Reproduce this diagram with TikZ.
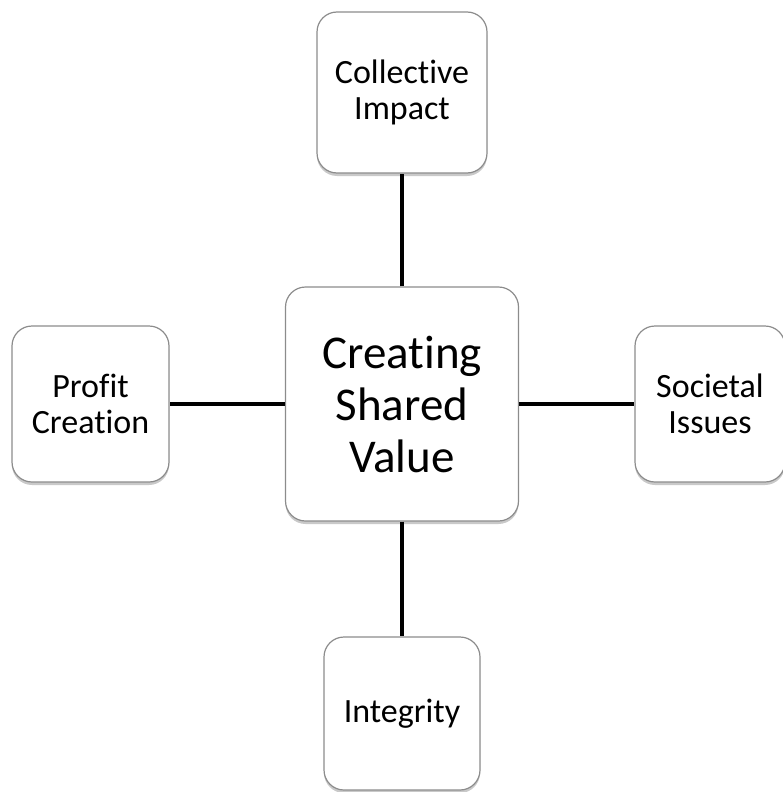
\documentclass[tikz,border=0pt]{standalone}
\usepackage{fontspec}
\setmainfont[RawFeature={-liga;-clig;-calt;-dlig}]{Carlito}
\usetikzlibrary{shadows}
\definecolor{csvedge}{HTML}{8C8C8C}

\tikzset{
  topic/.style={draw=csvedge, line width=1.2pt, fill=white, rounded corners=20pt,
    align=center, inner sep=0pt, font=\fontsize{34}{36}\selectfont,
    drop shadow={shadow xshift=0pt, shadow yshift=-3pt, opacity=0.3, fill=black!70}},
  link/.style={line width=4.6pt, black}
}

\begin{document}
\begin{tikzpicture}[x=1pt,y=-1pt]
  \useasboundingbox (0,0) rectangle (782,792);
  % hub and the four topics round it
  \node[topic, minimum width=233pt, minimum height=234pt, font=\fontsize{47}{52}\selectfont] (csv) at (402,404) {Creating\\Shared\\Value};
  \node[topic, minimum width=170pt, minimum height=161pt] (impact) at (402,92.5) {Collective\\Impact};
  \node[topic, minimum width=157pt, minimum height=156pt] (profit) at (90.5,404) {Profit\\Creation};
  \node[topic, minimum width=150pt, minimum height=156pt] (issues) at (710,404) {Societal\\Issues};
  \node[topic, minimum width=156pt, minimum height=153pt] (integrity) at (402,713.5) {Integrity};
  % spokes
  \draw[link] (csv.north) -- (impact.south);
  \draw[link] (csv.south) -- (integrity.north);
  \draw[link] (csv.west) -- (profit.east);
  \draw[link] (csv.east) -- (issues.west);
\end{tikzpicture}
\end{document}
